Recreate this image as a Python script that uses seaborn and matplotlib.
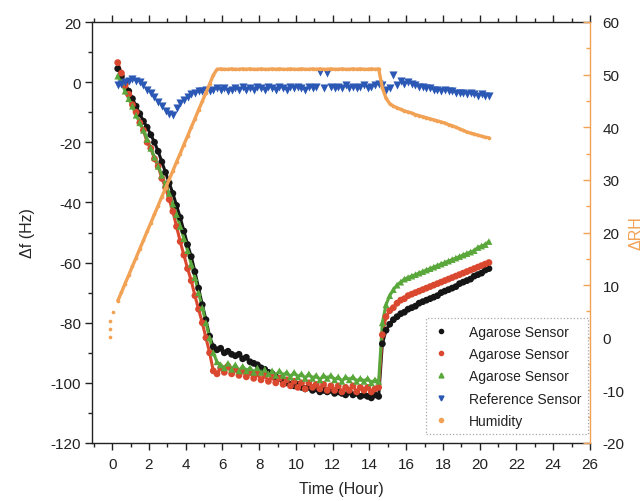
import numpy as np
import pandas as pd
import matplotlib
matplotlib.use("Agg")
import matplotlib.pyplot as plt
from matplotlib.lines import Line2D
from matplotlib.ticker import MultipleLocator
import seaborn as sns

# Sampling times (hours), one reading every 0.2 h
hours = np.round(np.arange(0.3, 20.51, 0.2), 1)

# Frequency shift (Hz) of the three agarose-coated sensors
agarose_1 = [
    4.5, 2.0, -0.5, -3.0, -5.5, -8.0, -10.5, -13.0, -15.0, -17.5,
    -20.0, -23.0, -26.5, -30.0, -33.5, -37.0, -41.0, -45.0, -49.5, -54.0,
    -58.0, -63.0, -68.5, -74.0, -79.0, -84.5, -88.0, -89.0, -88.5, -90.0,
    -89.5, -90.5, -91.0, -90.5, -92.0, -91.5, -93.0, -93.5, -94.0, -95.0,
    -95.5, -96.5, -97.0, -98.0, -98.5, -99.5, -100.0, -100.5, -101.0, -100.5,
    -101.5, -102.0, -101.5, -102.5, -102.0, -103.0, -102.5, -103.0, -102.5, -103.5,
    -103.0, -103.5, -104.0, -103.0, -104.0, -103.5, -104.5, -104.0, -104.5, -105.0,
    -104.0, -104.5, -87.0, -82.5, -80.5, -79.0, -78.0, -77.0, -76.5, -75.5,
    -75.0, -74.5, -73.5, -73.0, -72.5, -72.0, -71.5, -71.0, -70.0, -69.5,
    -69.0, -68.5, -68.0, -67.0, -66.5, -66.0, -65.5, -64.5, -64.0, -63.5,
    -62.5, -62.0,
]
agarose_2 = [
    6.5, 3.0, -1.0, -4.0, -7.5, -10.0, -13.5, -16.0, -20.0, -22.0,
    -25.5, -28.0, -32.0, -35.0, -39.0, -43.0, -48.0, -53.0, -57.5, -62.0,
    -66.0, -71.0, -75.5, -80.0, -85.0, -90.0, -96.0, -97.0, -95.0, -96.5,
    -94.5, -97.0, -95.5, -97.5, -96.0, -98.0, -96.5, -98.5, -97.0, -99.0,
    -97.5, -99.5, -98.0, -100.0, -98.5, -100.5, -99.0, -101.0, -99.5, -101.5,
    -100.0, -102.0, -100.0, -101.5, -100.5, -102.0, -100.5, -102.5, -101.0, -102.5,
    -101.0, -103.0, -101.5, -102.5, -101.0, -103.0, -101.5, -102.5, -101.5, -103.0,
    -102.0, -101.5, -84.0, -78.0, -76.0, -75.0, -73.5, -72.5, -72.0, -71.0,
    -70.5, -70.0, -69.5, -69.0, -68.5, -68.0, -67.5, -67.0, -66.5, -66.0,
    -65.5, -65.0, -64.5, -64.0, -63.5, -63.0, -62.5, -62.0, -61.5, -61.0,
    -60.5, -60.0,
]
agarose_3 = [
    2.0, 0.0, -3.0, -5.5, -8.0, -11.0, -13.5, -16.0, -19.0, -22.0,
    -25.0, -28.0, -31.0, -34.0, -37.0, -40.5, -44.0, -48.0, -52.0, -56.0,
    -60.5, -65.0, -70.0, -75.0, -80.0, -85.0, -90.0, -93.0, -94.0, -95.0,
    -93.5, -95.5, -94.0, -96.0, -94.5, -96.0, -95.0, -96.5, -95.0, -96.5,
    -95.5, -97.0, -96.0, -97.5, -96.0, -97.5, -96.5, -98.0, -96.5, -98.0,
    -97.0, -98.5, -97.0, -98.5, -97.5, -99.0, -97.5, -98.5, -97.5, -99.0,
    -98.0, -99.5, -98.0, -99.0, -98.0, -99.5, -98.5, -99.5, -98.5, -100.0,
    -99.0, -99.5, -80.0, -74.0, -71.0, -69.0, -67.5, -66.5, -65.5, -65.0,
    -64.5, -64.0, -63.5, -63.0, -62.5, -62.0, -61.5, -61.0, -60.5, -60.0,
    -59.5, -59.0, -58.5, -58.0, -57.5, -57.0, -56.5, -56.0, -55.0, -54.5,
    -54.0, -53.0,
]
# Uncoated reference sensor (Hz)
reference = [
    -1.0, -0.5, 0.0, 0.5, 1.0, 0.5, 0.0, -1.0, -2.5, -3.5,
    -5.0, -6.5, -8.0, -9.5, -10.5, -11.0, -8.5, -7.0, -6.0, -5.0,
    -4.0, -3.5, -3.0, -3.0, -2.5, -3.0, -2.5, -2.0, -2.5, -2.0,
    -3.0, -2.5, -2.0, -2.5, -1.5, -2.5, -2.0, -2.5, -1.5, -2.0,
    -2.5, -1.5, -2.0, -2.5, -1.5, -2.0, -2.5, -1.5, -2.0, -1.5,
    -2.0, -2.5, -1.5, -2.0, -1.5, 3.5, -2.0, 3.0, -1.5, -2.0,
    -1.5, -2.0, -1.0, -2.0, -1.5, -2.0, -1.5, -1.0, -2.0, -1.5,
    -1.0, -0.5, -1.0, -2.5, -2.0, 2.5, -1.0, 0.5, -0.5, 0.0,
    -0.5, -1.0, -1.5, -1.5, -2.0, -2.0, -2.5, -2.5, -3.0, -2.5,
    -3.0, -3.0, -3.5, -3.5, -3.5, -4.0, -3.5, -4.0, -4.5, -4.0,
    -4.5, -4.5,
]
# Relative humidity change (%), right axis
humidity_start_hours = [-0.1, -0.1, -0.1, 0.05]
humidity_start = [0.2, 1.6, 3.2, 4.9]
humidity = [
    7.0, 8.6, 10.3, 11.9, 13.6, 15.2, 16.9, 18.5, 20.2, 21.8,
    23.5, 25.1, 26.8, 28.4, 30.1, 31.7, 33.4, 35.0, 36.7, 38.3,
    40.0, 41.6, 43.3, 44.9, 46.6, 48.2, 49.9, 51.0, 51.1, 51.0,
    51.0, 51.1, 51.0, 51.0, 51.1, 51.0, 51.1, 51.0, 51.0, 51.1,
    51.0, 51.0, 51.1, 51.0, 51.1, 51.0, 51.0, 51.1, 51.0, 51.0,
    51.1, 51.0, 51.0, 51.1, 51.0, 51.1, 51.0, 51.0, 51.1, 51.0,
    51.0, 51.1, 51.0, 51.0, 51.1, 51.0, 51.1, 51.0, 51.0, 51.1,
    51.0, 51.1, 47.5, 45.5, 44.5, 44.0, 43.7, 43.4, 43.1, 42.9,
    42.7, 42.4, 42.2, 42.0, 41.8, 41.6, 41.4, 41.2, 41.0, 40.8,
    40.5, 40.3, 40.0, 39.7, 39.4, 39.1, 38.9, 38.7, 38.5, 38.3,
    38.1, 38.0,
]

legend_labels = ["Agarose Sensor", "Agarose Sensor", "Agarose Sensor",
                 "Reference Sensor", "Humidity"]

BLACK, RED, GREEN, BLUE, ORANGE = "#151515", "#d9482f", "#5aa83c", "#2b58b5", "#f2a255"

sns.set_style("ticks")
plt.rcParams["font.family"] = ["Liberation Sans", "DejaVu Sans"]
plt.rcParams["text.color"] = "#222222"
plt.rcParams["axes.unicode_minus"] = False

series = {"s1": agarose_1, "s2": agarose_2, "s3": agarose_3}
frames = [pd.DataFrame({"hours": hours, "shift": vals, "sensor": key})
          for key, vals in series.items()]
data = pd.concat(frames, ignore_index=True)

palette = {"s1": BLACK, "s2": RED, "s3": GREEN}
markers = {"s1": "o", "s2": "o", "s3": "^"}

fig = plt.figure(figsize=(6.44, 5.02), dpi=100)
ax = fig.add_axes([92 / 644, 1 - 444 / 502, 498 / 644, 421 / 502])

# connecting traces keep the steep segments of the sensor curves continuous
for key in ["s1", "s2", "s3"]:
    sub = data[data["sensor"] == key]
    sns.lineplot(data=sub, x="hours", y="shift", ax=ax, color=palette[key],
                 lw=2.2, sort=False, estimator=None, legend=False)

sns.scatterplot(data=data, x="hours", y="shift", hue="sensor", style="sensor",
                palette=palette, markers=markers, s=24, linewidth=0,
                legend=False, ax=ax, zorder=3)
sns.scatterplot(x=hours, y=reference, color=BLUE, marker="v", s=34,
                linewidth=0, legend=False, ax=ax, zorder=4)

ax.set_xlim(-1.1, 26)
ax.set_ylim(-120, 20)
ax.xaxis.set_major_locator(MultipleLocator(2))
ax.xaxis.set_minor_locator(MultipleLocator(1))
ax.yaxis.set_major_locator(MultipleLocator(20))
ax.yaxis.set_minor_locator(MultipleLocator(10))
ax.tick_params(which="major", direction="out", length=5, width=1,
               top=True, right=False, labelsize=11, pad=3, colors="#222222")
ax.tick_params(which="minor", direction="out", length=3, width=1,
               top=True, right=False, colors="#222222")
ax.tick_params(axis="x", which="major", pad=5)
for side in ["left", "bottom", "top"]:
    ax.spines[side].set_color("#222222")
    ax.spines[side].set_linewidth(1.0)
ax.spines["right"].set_visible(False)
ax.set_xlabel("Time (Hour)", fontsize=11.5, labelpad=7)
ax.set_ylabel("Δf (Hz)", fontsize=11.5, labelpad=11)

# Humidity on a second y axis
ax2 = ax.twinx()
sns.lineplot(x=hours, y=humidity, ax=ax2, color=ORANGE, lw=2.4,
             sort=False, estimator=None, legend=False)
sns.scatterplot(x=humidity_start_hours + list(hours),
                y=humidity_start + humidity, ax=ax2, color=ORANGE,
                s=7, linewidth=0, legend=False)
ax2.set_ylim(-20, 60)
ax2.yaxis.set_major_locator(MultipleLocator(10))
ax2.yaxis.set_minor_locator(MultipleLocator(5))
ax2.tick_params(which="major", direction="in", length=5, width=1,
                color=ORANGE, labelcolor="#222222", labelsize=11, pad=9)
ax2.tick_params(which="minor", direction="in", length=3, width=1, color=ORANGE)
for side in ["left", "top", "bottom"]:
    ax2.spines[side].set_visible(False)
ax2.spines["right"].set_color(ORANGE)
ax2.spines["right"].set_linewidth(1.0)
ax2.set_ylabel("ΔRH", color=ORANGE, fontsize=11.5, rotation=90, labelpad=3)

handles = [
    Line2D([], [], ls="none", marker="o", ms=3, color=BLACK),
    Line2D([], [], ls="none", marker="o", ms=3, color=RED),
    Line2D([], [], ls="none", marker="^", ms=3.5, color=GREEN),
    Line2D([], [], ls="none", marker="v", ms=3.5, color=BLUE),
    Line2D([], [], ls="none", marker="o", ms=3, color=ORANGE),
]
leg = ax2.legend(handles, legend_labels, loc="lower right",
                 bbox_to_anchor=(0.996, 0.021), borderaxespad=0,
                 fontsize=10, frameon=True, fancybox=False, framealpha=1,
                 handlelength=1.4, handletextpad=1.3, borderpad=0.45,
                 labelspacing=0.6)
frame = leg.get_frame()
frame.set_edgecolor("#a8a8a8")
frame.set_linestyle(":")
frame.set_linewidth(0.9)

fig.savefig("out.png", dpi=100)
